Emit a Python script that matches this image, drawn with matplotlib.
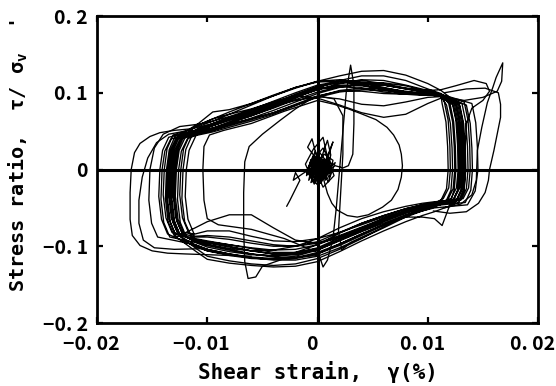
import matplotlib
matplotlib.use("Agg")
import matplotlib.pyplot as plt
from matplotlib.transforms import ScaledTranslation
import numpy as np

# Units used in the tables below
STRAIN_UNIT = 1e-3   # strain values are in 1/1000 of a percent
STRESS_UNIT = 1e-2   # stress ratio values are in 1/100

# Strain stations along the upper (loading) and lower (unloading) branches
up_strain = [-10.8, -9.5, -8.0, -6.0, -4.0, -2.0, 0.0, 2.0, 4.0, 6.0, 8.0, 10.0, 11.2]
dn_strain = [10.6, 9.5, 8.0, 6.0, 4.0, 2.0, 0.0, -2.0, -4.0, -6.0, -8.0, -10.0, -11.1]

# Steady cycles: left reversal, upper branch, right reversal, lower branch
left_strain = [
    [-11.2, -11.75, -12.0, -11.9, -11.65, -11.1],
    [-11.5, -12.05, -12.3, -12.2, -11.95, -11.4],
    [-11.7, -12.25, -12.5, -12.4, -12.15, -11.6],
    [-11.9, -12.45, -12.7, -12.6, -12.35, -11.8],
    [-12.1, -12.65, -12.9, -12.8, -12.55, -12.0],
    [-12.2, -12.75, -13.0, -12.9, -12.65, -12.1],
    [-12.3, -12.85, -13.1, -13.0, -12.75, -12.2],
    [-12.4, -12.95, -13.2, -13.1, -12.85, -12.3],
    [-12.5, -13.05, -13.3, -13.2, -12.95, -12.4],
    [-12.6, -13.15, -13.4, -13.3, -13.05, -12.5],
    [-12.7, -13.25, -13.5, -13.4, -13.15, -12.6],
    [-12.8, -13.35, -13.6, -13.5, -13.25, -12.7],
    [-12.9, -13.45, -13.7, -13.6, -13.35, -12.8],
    [-13.0, -13.55, -13.8, -13.7, -13.45, -12.9],
    [-13.2, -13.75, -14.0, -13.9, -13.65, -13.1],
    [-13.4, -13.95, -14.2, -14.1, -13.85, -13.3],
    [-13.6, -14.15, -14.4, -14.3, -14.05, -13.5],
    [-14.5, -15.05, -15.3, -15.2, -14.8, -14.0, -12.5],
]
left_stress = [
    [-8.4, -6.5, -3.5, 0.0, 2.5, 4.2],
    [-8.6, -6.8, -3.8, 0.0, 2.6, 4.4],
    [-8.2, -6.3, -3.3, 0.0, 2.7, 4.5],
    [-8.8, -6.9, -3.9, 0.0, 2.4, 4.0],
    [-8.4, -6.5, -3.5, 0.0, 2.5, 4.2],
    [-8.6, -6.8, -3.8, 0.0, 2.6, 4.4],
    [-8.2, -6.3, -3.3, 0.0, 2.7, 4.5],
    [-8.8, -6.9, -3.9, 0.0, 2.4, 4.0],
    [-8.4, -6.5, -3.5, 0.0, 2.5, 4.2],
    [-8.6, -6.8, -3.8, 0.0, 2.6, 4.4],
    [-8.2, -6.3, -3.3, 0.0, 2.7, 4.5],
    [-8.8, -6.9, -3.9, 0.0, 2.4, 4.0],
    [-8.4, -6.5, -3.5, 0.0, 2.5, 4.2],
    [-8.6, -6.8, -3.8, 0.0, 2.6, 4.4],
    [-8.2, -6.3, -3.3, 0.0, 2.7, 4.5],
    [-8.8, -6.9, -3.9, 0.0, 2.4, 4.0],
    [-8.4, -6.5, -3.5, 0.0, 2.5, 4.2],
    [-8.8, -7.0, -4.0, 0.0, 2.8, 4.6, 5.6],
]
up_stress = [
    [5.0, 5.4, 5.9, 6.6, 7.4, 8.4, 9.4, 10.1, 10.4, 10.3, 10.0, 9.8, 9.6],
    [4.5, 4.9, 5.5, 6.3, 7.2, 8.3, 9.5, 10.3, 10.6, 10.5, 10.1, 9.8, 9.7],
    [5.2, 5.8, 6.5, 7.4, 8.4, 9.5, 10.5, 11.0, 11.0, 10.6, 10.1, 9.8, 9.6],
    [4.6, 5.1, 5.8, 6.7, 7.7, 8.8, 9.9, 10.7, 11.2, 11.3, 10.9, 10.2, 9.8],
    [5.4, 6.0, 6.8, 7.7, 8.7, 9.7, 10.5, 10.8, 10.6, 10.1, 9.8, 9.7, 9.6],
    [5.0, 5.7, 6.4, 7.3, 8.3, 9.4, 10.4, 11.2, 11.7, 11.6, 11.0, 10.3, 9.8],
    [5.3, 6.0, 6.7, 7.5, 8.3, 9.0, 9.5, 9.2, 8.5, 8.3, 8.8, 9.4, 9.5],
    [4.7, 5.3, 6.0, 7.0, 8.1, 9.3, 10.6, 11.6, 12.2, 12.2, 11.6, 10.5, 9.9],
    [5.8, 6.6, 7.5, 8.6, 9.7, 10.7, 11.4, 11.5, 11.0, 10.4, 9.9, 9.7, 9.6],
    [4.9, 5.4, 6.1, 7.0, 8.0, 9.1, 10.1, 10.8, 11.1, 11.0, 10.5, 10.0, 9.7],
    [5.8, 6.6, 7.2, 7.9, 8.8, 9.6, 9.3, 8.4, 7.4, 6.8, 7.2, 8.6, 9.3],
    [5.1, 5.7, 6.5, 7.4, 8.5, 9.7, 10.8, 11.5, 11.6, 11.2, 10.6, 10.0, 9.7],
    [6.0, 7.5, 7.8, 8.6, 9.6, 10.6, 11.5, 12.2, 12.8, 12.9, 12.3, 11.2, 10.3],
    [4.8, 5.4, 6.2, 7.2, 8.3, 9.4, 10.4, 10.9, 10.9, 10.6, 10.2, 9.9, 9.7],
    [5.6, 6.3, 7.2, 8.4, 9.6, 10.7, 11.5, 11.7, 11.3, 10.7, 10.1, 9.9, 9.7],
    [4.6, 5.1, 5.7, 6.5, 7.4, 8.5, 9.6, 10.2, 10.2, 9.9, 9.8, 9.7, 9.6],
    [5.2, 5.8, 6.6, 7.5, 8.6, 9.8, 10.8, 11.3, 11.3, 11.0, 10.6, 10.3, 10.4],
    [5.9, 6.3, 6.9, 7.8, 8.9, 10.0, 11.0, 11.5, 11.4, 11.0, 10.5, 10.1, 9.8],
]
right_strain = [
    [11.3, 11.65, 11.8, 11.85, 11.7, 11.2],
    [11.5, 11.85, 12.0, 12.05, 11.9, 11.4],
    [11.7, 12.05, 12.2, 12.25, 12.1, 11.6],
    [11.9, 12.25, 12.4, 12.45, 12.3, 11.8],
    [12.0, 12.35, 12.5, 12.55, 12.4, 11.9, 11.3],
    [12.2, 12.55, 12.7, 12.75, 12.6, 12.1],
    [12.3, 12.65, 12.8, 12.85, 12.7, 12.2],
    [12.4, 12.75, 12.9, 12.95, 12.8, 12.3],
    [12.5, 12.85, 13.0, 13.05, 12.9, 12.4],
    [12.6, 12.95, 13.1, 13.15, 13.0, 12.5],
    [12.7, 13.05, 13.2, 13.25, 13.1, 12.6],
    [12.8, 13.15, 13.3, 13.35, 13.2, 12.7],
    [12.9, 13.25, 13.4, 13.45, 13.3, 12.8],
    [13.1, 13.45, 13.6, 13.65, 13.5, 13.0],
    [13.3, 13.65, 13.8, 13.85, 13.7, 13.2],
    [13.5, 13.85, 14.0, 14.05, 13.9, 13.4],
    [12.5, 14.2, 15.3, 15.6, 15.0, 14.0, 13.5, 13.4, 13.4, 13.3, 12.8],
    [14.0, 14.35, 14.5, 14.55, 14.3, 13.6],
]
right_stress = [
    [8.6, 6.2, 3.0, 0.0, -2.5, -4.0],
    [8.8, 6.4, 3.2, 0.0, -2.4, -3.8],
    [8.4, 6.0, 2.8, 0.0, -2.7, -4.3],
    [8.6, 6.2, 3.0, 0.0, -2.5, -4.0],
    [8.7, 6.2, 3.0, 0.0, -2.6, -5.0, -7.3],
    [8.8, 6.4, 3.2, 0.0, -2.4, -3.8],
    [8.4, 6.0, 2.8, 0.0, -2.7, -4.3],
    [8.6, 6.2, 3.0, 0.0, -2.5, -4.0],
    [8.8, 6.4, 3.2, 0.0, -2.4, -3.8],
    [8.4, 6.0, 2.8, 0.0, -2.7, -4.3],
    [8.6, 6.2, 3.0, 0.0, -2.5, -4.0],
    [8.8, 6.4, 3.2, 0.0, -2.4, -3.8],
    [8.4, 6.0, 2.8, 0.0, -2.7, -4.3],
    [8.6, 6.2, 3.0, 0.0, -2.5, -4.0],
    [8.8, 6.4, 3.2, 0.0, -2.4, -3.8],
    [8.4, 6.0, 2.8, 0.0, -2.7, -4.3],
    [10.9, 11.6, 11.2, 10.2, 9.0, 8.0, 6.0, 3.0, 0.0, -2.5, -4.0],
    [8.6, 6.1, 2.9, 0.0, -2.8, -4.6],
]
dn_stress = [
    [-4.6, -5.0, -5.6, -6.6, -7.6, -8.7, -9.8, -10.4, -10.5, -10.2, -9.8, -9.4, -9.1],
    [-4.4, -4.8, -5.4, -6.4, -7.5, -8.6, -9.6, -10.0, -9.8, -9.3, -8.8, -8.6, -8.7],
    [-4.8, -5.2, -5.9, -7.0, -8.1, -9.3, -10.5, -11.0, -11.0, -10.6, -10.0, -9.5, -9.2],
    [-4.3, -4.6, -5.1, -6.0, -7.0, -8.2, -9.4, -10.0, -10.0, -9.6, -9.1, -8.8, -8.8],
    [-6.4, -6.2, -6.2, -7.2, -8.4, -9.7, -11.0, -11.5, -11.4, -11.0, -10.4, -9.8, -9.4],
    [-4.5, -4.8, -5.3, -6.2, -7.2, -8.2, -9.0, -9.4, -9.3, -8.7, -8.0, -8.0, -8.4],
    [-4.7, -5.2, -6.0, -7.5, -9.0, -10.4, -11.6, -12.3, -12.5, -12.3, -11.9, -11.3, -10.2],
    [-4.2, -4.4, -4.8, -5.5, -6.4, -7.6, -9.0, -10.0, -10.5, -10.6, -10.3, -9.8, -9.3],
    [-4.9, -5.4, -6.2, -7.6, -8.9, -10.2, -11.3, -11.8, -11.8, -11.5, -11.0, -10.4, -9.8],
    [-4.5, -4.9, -5.5, -6.6, -7.8, -9.1, -10.4, -11.1, -11.3, -11.0, -10.5, -9.9, -9.4],
    [-4.6, -5.0, -5.6, -6.6, -7.7, -8.9, -9.6, -9.2, -7.6, -5.9, -5.9, -6.8, -7.6],
    [-4.4, -4.8, -5.4, -6.4, -7.6, -8.9, -10.2, -10.9, -11.0, -10.6, -10.1, -9.6, -9.2],
    [-5.5, -6.0, -6.8, -8.0, -9.3, -10.7, -12.0, -12.6, -12.7, -12.5, -12.2, -11.7, -10.6],
    [-4.6, -5.0, -5.7, -6.8, -8.0, -9.2, -10.3, -10.8, -10.8, -10.3, -9.8, -9.3, -9.0],
    [-4.3, -4.6, -5.1, -6.0, -7.0, -8.3, -9.8, -10.8, -11.2, -11.1, -10.7, -10.1, -9.5],
    [-4.7, -5.2, -6.0, -7.3, -8.6, -9.9, -11.0, -11.6, -11.7, -11.5, -11.1, -10.6, -10.0],
    [-4.5, -4.9, -5.6, -6.7, -7.9, -9.2, -10.5, -11.3, -11.6, -11.4, -11.0, -10.4, -9.8],
    [-5.0, -5.4, -6.0, -7.2, -8.4, -9.7, -10.8, -11.5, -11.7, -11.6, -11.2, -10.6, -10.0],
]

# Small-amplitude response at the start of loading
start_strain = [0.0, 0.4, -0.3, 0.6, -0.5, 0.3, 0.9, -0.2, -0.8, 0.2, 1.1, 0.3,
                -0.6, 0.5, 1.3, 0.4, -0.4, -1.0, 0.0, 0.8, 1.4, 0.6, -0.3, -1.1,
                -0.4, 0.5, 0.9, 1.5, 0.5, -0.6, -1.0, -0.2, 0.7, 1.2, 0.9, 0.1,
                -0.8, -0.3, 0.4, 1.6, 1.1, 0.1, -0.7, 0.2, 0.8, -0.1, -0.9, -0.5,
                -0.1, 0.3, 1.0, 1.4, 0.6, -0.2, -0.6, 0.2, 0.9, 0.3, -0.4, 0.1,
                0.7, 0.0, -0.5, 0.5, 1.2, 0.4, -0.5, -1.3, -2.2, -2.0, -1.6,
                -2.5, -2.8]
start_stress = [0.0, 0.8, -0.6, 1.2, -1.0, 1.6, 0.3, -1.5, 0.4, 2.2, 0.5, -1.8,
                0.9, 2.8, 0.6, -1.2, 1.8, -0.3, -2.0, 1.4, 3.6, 0.0, -1.9, 0.7,
                2.6, 4.2, 1.6, -0.8, -2.3, 1.3, -0.8, 2.4, -1.4, 1.9, 3.8, 0.5,
                -1.4, 1.7, -0.6, 0.9, -1.1, 1.1, -0.2, -1.3, 0.7, 1.4, 2.9, 4.0,
                1.8, -0.3, -1.6, 1.2, 2.0, 0.2, -1.7, -0.9, 0.9, 1.3, 0.4, -0.4,
                0.2, 0.6, -0.4, -0.8, 0.0, 0.4, 0.2, -0.5, -1.4, -0.4, -1.4,
                -4.0, -4.8]
core_strain = [0.1, -0.5, 0.6, -0.3, 0.8, -0.6, 0.4, 1.0, -0.2, -0.7, 0.5, 0.9,
               -0.4, 0.2, 1.0, -0.1, -0.8, 0.3, 0.7, -0.5, 0.0, 0.9, 0.4, -0.6,
               -0.2, 0.6, 1.1, 0.2, -0.7, -0.3, 0.5, 0.8, -0.1, -0.5, 0.3, 1.0,
               0.6, -0.4, 0.1, 0.7, -0.2, -0.6, 0.4, 0.9, 0.0, -0.3, 0.6, 0.2]
core_stress = [0.3, -0.9, 1.1, -1.3, 0.6, 0.9, -1.4, 0.2, 1.4, -0.4, -1.1, 1.2,
               0.5, -1.5, -0.3, 1.5, 0.1, -1.0, 1.3, -0.7, 1.0, -1.2, 0.7, -0.2,
               -1.4, 1.4, -0.5, -1.1, 0.8, 1.2, -1.3, 0.4, 1.1, -0.8, -1.5, 0.9,
               1.3, -0.6, 0.0, -1.2, 1.0, 0.4, -0.9, 1.1, -0.4, 0.6, -1.0, 0.2]

# First large excursions out of the small-amplitude range
first_strain = [0.5, 0.9, 1.3, 1.8, 2.7, 3.6, 4.6, 5.9, 6.7, 7.3, 7.6, 7.7, 7.6,
                7.4, 6.9, 6.3, 5.3, 3.9, 2.8, 1.5, 0.0, -3.0, -6.0, -8.5, -9.8,
                -10.3, -10.4, -10.3, -10.0, -9.0, -6.0, -3.0, 0.0, 0.2, 0.5, 0.9,
                1.4, 1.7, 2.0, 2.3, 2.6, 3.0, 3.3, 3.3, 3.2, 2.8, 2.3, 1.6, 1.0]
first_stress = [-1.0, -3.1, -4.4, -5.3, -6.0, -6.2, -5.9, -4.9, -4.0, -2.6, -1.0,
                0.5, 2.0, 3.2, 4.5, 5.5, 6.5, 7.3, 7.9, 8.5, 9.0, 7.6, 6.0, 5.1,
                4.5, 3.0, 0.0, -4.0, -6.4, -7.2, -7.8, -9.0, -10.8, -11.4, -12.7,
                -11.8, -9.0, -5.0, 0.0, 5.0, 10.0, 13.6, 11.0, 6.0, 2.0, 0.5, 0.2,
                0.5, 0.0]

second_strain = [0.0, 1.5, 2.3, 2.3, 2.1, 1.9, 2.2, 3.0, 6.0]
second_stress = [9.6, 9.2, 7.0, 2.0, -3.0, -8.0, -10.5, -9.5, -7.5]

drop_strain = [-0.7, -2.0, -3.4, -5.0, -6.2, -6.6, -6.7, -6.7, -6.6, -6.3, -5.6,
               -5.0, -3.0, 0.0]
drop_stress = [9.1, 7.9, 6.4, 4.6, 3.0, 1.0, -3.0, -8.0, -12.0, -14.2, -14.0,
               -12.6, -11.6, -11.2]

# Widest excursions on the negative side
outer_a_strain = [-6.0, -8.0, -10.0, -12.0, -13.6, -15.0, -16.1, -16.8, -17.0,
                  -17.0, -16.9, -16.6, -16.1, -15.2, -14.3, -13.0, -11.5, -10.0]
outer_a_stress = [-11.3, -11.2, -11.1, -11.0, -10.9, -10.6, -9.9, -8.6, -6.5,
                  -3.0, 0.0, 2.2, 3.4, 4.3, 4.8, 5.1, 5.3, 5.8]
outer_b_strain = [-10.0, -13.0, -14.8, -15.8, -16.2, -16.2, -15.9, -15.4, -14.6,
                  -13.5, -12.0]
outer_b_stress = [-10.3, -10.4, -10.2, -9.2, -7.0, -4.0, -1.0, 1.5, 3.5, 4.6, 5.0]

# Widest excursions on the positive side
peak_a_strain = [11.0, 13.3, 15.0, 16.3, 16.7, 16.8, 16.2, 15.9, 15.4, 14.9,
                 14.5, 14.4, 14.0, 13.0, 11.5]
peak_a_stress = [9.6, 9.0, 9.4, 10.2, 11.5, 13.9, 12.0, 10.7, 8.7, 5.5, 2.5,
                 -1.4, -3.3, -4.5, -5.0]
peak_b_strain = [11.5, 13.5, 15.2, 16.4, 16.6, 16.6, 16.0, 15.6, 15.5, 15.2,
                 14.6, 13.5, 12.0, 10.5]
peak_b_stress = [10.0, 10.5, 10.6, 10.0, 8.5, 6.8, 2.5, 0.0, -1.4, -3.0, -4.4,
                 -5.5, -5.7, -5.4]

x_tick_values = [-0.02, -0.01, 0.0, 0.01, 0.02]
x_tick_labels = ["\u22120. 02", "\u22120. 01", "0", "0. 01", "0. 02"]
y_tick_values = [-0.2, -0.1, 0.0, 0.1, 0.2]
y_tick_labels = ["\u22120. 2", "\u22120. 1", "0", "0. 1", "0. 2"]

plt.rcParams["font.family"] = ["DejaVu Sans Mono", "DejaVu Sans"]
plt.rcParams["font.weight"] = "bold"
plt.rcParams["mathtext.fontset"] = "custom"
plt.rcParams["mathtext.rm"] = "DejaVu Sans Mono:bold"
plt.rcParams["mathtext.it"] = "DejaVu Sans Mono:bold"
plt.rcParams["mathtext.bf"] = "DejaVu Sans Mono:bold"

tick_family = ["Noto Sans CJK JP", "DejaVu Sans"]

fig = plt.figure(figsize=(5.56, 3.86), dpi=100)
ax = fig.add_axes([0.1745, 0.1632, 0.7932, 0.7953])

line_style = dict(color="black", lw=0.95, solid_joinstyle="round",
                  solid_capstyle="round")


def draw(strain, stress, **kw):
    style = dict(line_style, **kw)
    ax.plot(np.asarray(strain) * STRAIN_UNIT, np.asarray(stress) * STRESS_UNIT,
            **style)


draw(start_strain, start_stress)
draw(core_strain, core_stress, lw=1.05)
draw(first_strain, first_stress)
draw(second_strain, second_stress)
draw(drop_strain, drop_stress)

# Steady cycles, chained into one continuous record
cyc_x, cyc_y = [], []
for k in range(len(up_stress)):
    cyc_x += left_strain[k] + up_strain + right_strain[k] + dn_strain
    cyc_y += left_stress[k] + up_stress[k] + right_stress[k] + dn_stress[k]
draw(cyc_x, cyc_y)

draw(outer_a_strain, outer_a_stress)
draw(outer_b_strain, outer_b_stress)
draw(peak_a_strain, peak_a_stress)
draw(peak_b_strain, peak_b_stress)

# Zero reference lines
ax.axhline(0, color="black", lw=2.2, zorder=3)
ax.axvline(0, color="black", lw=2.2, zorder=3)

ax.set_xlim(-0.02, 0.02)
ax.set_ylim(-0.2, 0.2)
ax.set_xticks(x_tick_values, x_tick_labels)
ax.set_yticks(y_tick_values, y_tick_labels)
ax.tick_params(direction="in", length=4, width=1.6, top=True, right=True)
ax.tick_params(axis="x", pad=8.5)
ax.tick_params(axis="y", pad=6.5)
for lab in ax.get_xticklabels() + ax.get_yticklabels():
    lab.set_fontweight("bold")
    lab.set_fontfamily(tick_family)
    lab.set_fontsize(14)
for sp in ax.spines.values():
    sp.set_linewidth(2.0)

# x tick labels sit slightly left of their ticks
shift_left = ScaledTranslation(-4 / 72, 0, fig.dpi_scale_trans)
for tick in ax.xaxis.get_major_ticks():
    tick.label1.set_transform(tick.label1.get_transform() + shift_left)

ax.set_xlabel("Shear strain,  \u03b3(%)", fontsize=15, fontweight="bold",
              labelpad=5.5)
ax.set_ylabel("Stress ratio,  \u03c4/ \u03c3$_{\\mathrm{v}}$  '", fontsize=14.5,
              fontweight="bold")
ax.yaxis.set_label_coords(-0.152, 0.547)

fig.savefig("out.png", dpi=100)
